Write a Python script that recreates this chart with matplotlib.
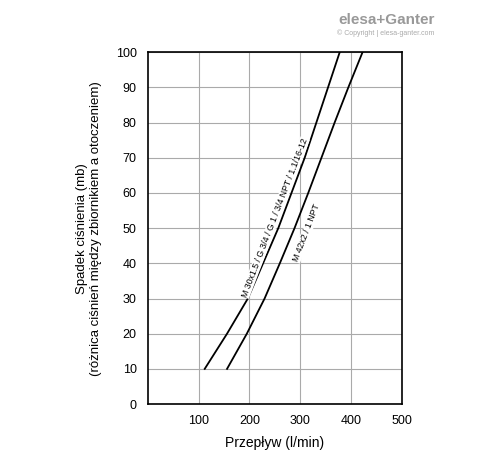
import matplotlib
matplotlib.use("Agg")
import matplotlib.pyplot as plt

plt.rcParams['font.family'] = ['Liberation Sans', 'DejaVu Sans']

y_vals = [10, 20, 30, 40, 50, 60, 70, 80, 90, 100]
x_curve1 = [112, 156, 197, 227, 257, 283, 309, 332, 355, 378]
x_curve2 = [156, 195, 230, 260, 289, 316, 342, 368, 395, 423]
label1 = "M 30x1.5 / G 3/4 / G 1 / 3/4 NPT / 1.1/16-12"
label2 = "M 42x2 / 1 NPT"
x_ticks = [100, 200, 300, 400, 500]
y_ticks = [0, 10, 20, 30, 40, 50, 60, 70, 80, 90, 100]

fig = plt.figure(figsize=(4.88, 4.54), dpi=100)
ax = fig.add_axes([0.303, 0.110, 0.520, 0.775])
ax.set_xlim(0, 500)
ax.set_ylim(0, 100)
ax.set_xticks(x_ticks)
ax.set_yticks(y_ticks)
ax.grid(True, color="#aaaaaa", lw=0.8)
ax.tick_params(length=0, labelsize=9, pad=8)
for s in ax.spines.values():
    s.set_linewidth(1.2)
ax.plot(x_curve1, y_vals, color="black", lw=1.3)
ax.plot(x_curve2, y_vals, color="black", lw=1.3)
bb = dict(facecolor="white", edgecolor="none", pad=0.3)
ax.text(250, 53, label1, rotation=69, ha="center", va="center", fontsize=6.3, bbox=bb)
ax.text(312, 48.6, label2, rotation=69, ha="center", va="center", fontsize=6.3, bbox=bb)
ax.set_xlabel("Przepływ (l/min)", fontsize=10, labelpad=6)
ax.set_ylabel("Spadek ciśnienia (mb)\n(różnica ciśnień między zbiornikiem a otoczeniem)", fontsize=9.5, labelpad=10)
fig.text(0.89, 0.955, "elesa+Ganter", ha="right", va="center", fontsize=11, color="#999999", fontweight="bold")
fig.text(0.89, 0.928, "© Copyright | elesa-ganter.com", ha="right", va="center", fontsize=5, color="#aaaaaa")
fig.savefig("out.png", dpi=100)
